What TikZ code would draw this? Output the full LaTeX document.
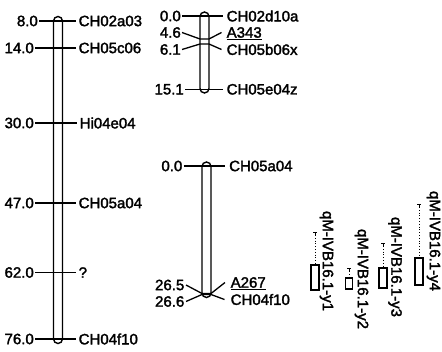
\documentclass[tikz,border=0pt]{standalone}
\usepackage{fontspec}
\setmainfont{Liberation Sans}
\newfontfamily\labfont{Liberation Sans}[FakeBold=2]
\begin{document}
\begin{tikzpicture}[x=1pt,y=-1pt,
  lab/.style={inner sep=0pt, font=\labfont\fontsize{15}{18}\selectfont},
  chrom/.style={draw, line width=1.4pt, rounded corners=4.5pt, inner sep=0pt, minimum width=9pt},
  mk/.style={line width=1.3pt},
  qbox/.style={draw, line width=1.1pt, inner sep=0pt},
  whisk/.style={line width=0.8pt, dotted},
  capline/.style={line width=0.9pt}]
\useasboundingbox (0,0) rectangle (442,351);

% ---------- chromosome 1 ----------
\node[chrom, minimum height=327pt] (chrA) at (58,180) {};
\node[lab, anchor=east] (a1) at (38,21) {8.0};
\node[lab, anchor=west] (b1) at (78.5,21) {CH02a03};
\node[lab, anchor=east] (a2) at (34,48) {14.0};
\node[lab, anchor=west] (b2) at (78.5,48) {CH05c06};
\node[lab, anchor=east] (a3) at (34,123) {30.0};
\node[lab, anchor=west] (b3) at (79.5,123) {Hi04e04};
\node[lab, anchor=east] (a4) at (34,203) {47.0};
\node[lab, anchor=west] (b4) at (78.5,203) {CH05a04};
\node[lab, anchor=east] (a5) at (34,272.5) {62.0};
\node[lab, anchor=west] (b5) at (78.5,272.5) {?};
\node[lab, anchor=east] (a6) at (34,339) {76.0};
\node[lab, anchor=west] (b6) at (78.5,339) {CH04f10};
\foreach \i in {1,...,6}{
  \draw[mk] ([xshift=1pt]a\i.east) -- ([xshift=-3pt]b\i.west);
}

% ---------- chromosome 2 ----------
\node[chrom, minimum height=81pt] (chrB) at (204.5,52.5) {};
\node[lab, anchor=east] (c1) at (181,16) {0.0};
\node[lab, anchor=west] (d1) at (226.5,16) {CH02d10a};
\draw[mk] ([xshift=1pt]c1.east) -- ([xshift=-4pt]d1.west);
\node[lab, anchor=east] (c2) at (181,32.5) {4.6};
\node[lab, anchor=west] (d2) at (226.5,32.5) {A343};
\draw[line width=1pt] ([yshift=-1.6pt]d2.south west) -- ([yshift=-1.6pt]d2.south east);
\coordinate (e2l) at (200,39);
\coordinate (e2r) at (209,39);
\draw[mk] ([xshift=1pt]c2.east) -- (e2l) -- (e2r) -- ([xshift=-5pt]d2.west);
\node[lab, anchor=east] (c3) at (181,49.5) {6.1};
\node[lab, anchor=west] (d3) at (226.5,49.5) {CH05b06x};
\coordinate (e3l) at (200,44);
\coordinate (e3r) at (209,44);
\draw[mk] ([xshift=1pt]c3.east) -- (e3l) -- (e3r) -- ([xshift=-5pt]d3.west);
\node[lab, anchor=east] (c4) at (184,89.3) {15.1};
\node[lab, anchor=west] (d4) at (226.5,89.3) {CH05e04z};
\draw[mk] ([xshift=1pt]c4.east) -- ([xshift=-4pt]d4.west);

% ---------- chromosome 3 ----------
\node[chrom, minimum height=135.5pt] (chrC) at (206.5,229.75) {};
\node[lab, anchor=east] (f1) at (182.5,166) {0.0};
\node[lab, anchor=west] (g1) at (229,166) {CH05a04};
\draw[mk] ([xshift=1pt]f1.east) -- ([xshift=-4pt]g1.west);
\node[lab, anchor=east] (f2) at (184.5,285) {26.5};
\node[lab, anchor=west] (g2) at (230.5,282.5) {A267};
\draw[line width=1pt] ([yshift=-1.6pt]g2.south west) -- ([yshift=-1.6pt]g2.south east);
\coordinate (h2l) at (202,293.5);
\coordinate (h2r) at (211,293.5);
\draw[mk] ([xshift=1.5pt]f2.east) -- (h2l) -- (h2r) -- ([xshift=-5.5pt]g2.west);
\node[lab, anchor=east] (f3) at (184.5,301.5) {26.6};
\node[lab, anchor=west] (g3) at (230.5,299.5) {CH04f10};
\coordinate (h3l) at (202,294.5);
\coordinate (h3r) at (211,294.5);
\draw[mk] ([xshift=1.5pt]f3.east) -- (h3l) -- (h3r) -- ([xshift=-6pt]g3.west);

% ---------- QTLs ----------
\node[qbox, minimum width=8pt, minimum height=25pt] (q1) at (315,277.5) {};
\coordinate (k1) at (315,232);
\node[qbox, minimum width=7pt, minimum height=11pt] (q2) at (349,283.5) {};
\coordinate (k2) at (349,268);
\node[qbox, minimum width=8pt, minimum height=20pt] (q3) at (383,278) {};
\coordinate (k3) at (383,243);
\node[qbox, minimum width=8pt, minimum height=27pt] (q4) at (419,271.5) {};
\coordinate (k4) at (419,204);
\foreach \i in {1,...,4}{
  \draw[capline] ([xshift=-2pt]k\i) -- ([xshift=2pt]k\i);
  \draw[capline] (k\i) -- ++(0,3);
  \draw[whisk] (k\i) ++(0,3) -- (q\i.north);
}
\node[lab, rotate=-90] (t1) at (326.5,261) {qM-IVB16.1-y1};
\node[lab, rotate=-90] (t2) at (361.5,279) {qM-IVB16.1-y2};
\node[lab, rotate=-90] (t3) at (395,267) {qM-IVB16.1-y3};
\node[lab, rotate=-90] (t4) at (433.5,241) {qM-IVB16.1-y4};
\end{tikzpicture}
\end{document}
